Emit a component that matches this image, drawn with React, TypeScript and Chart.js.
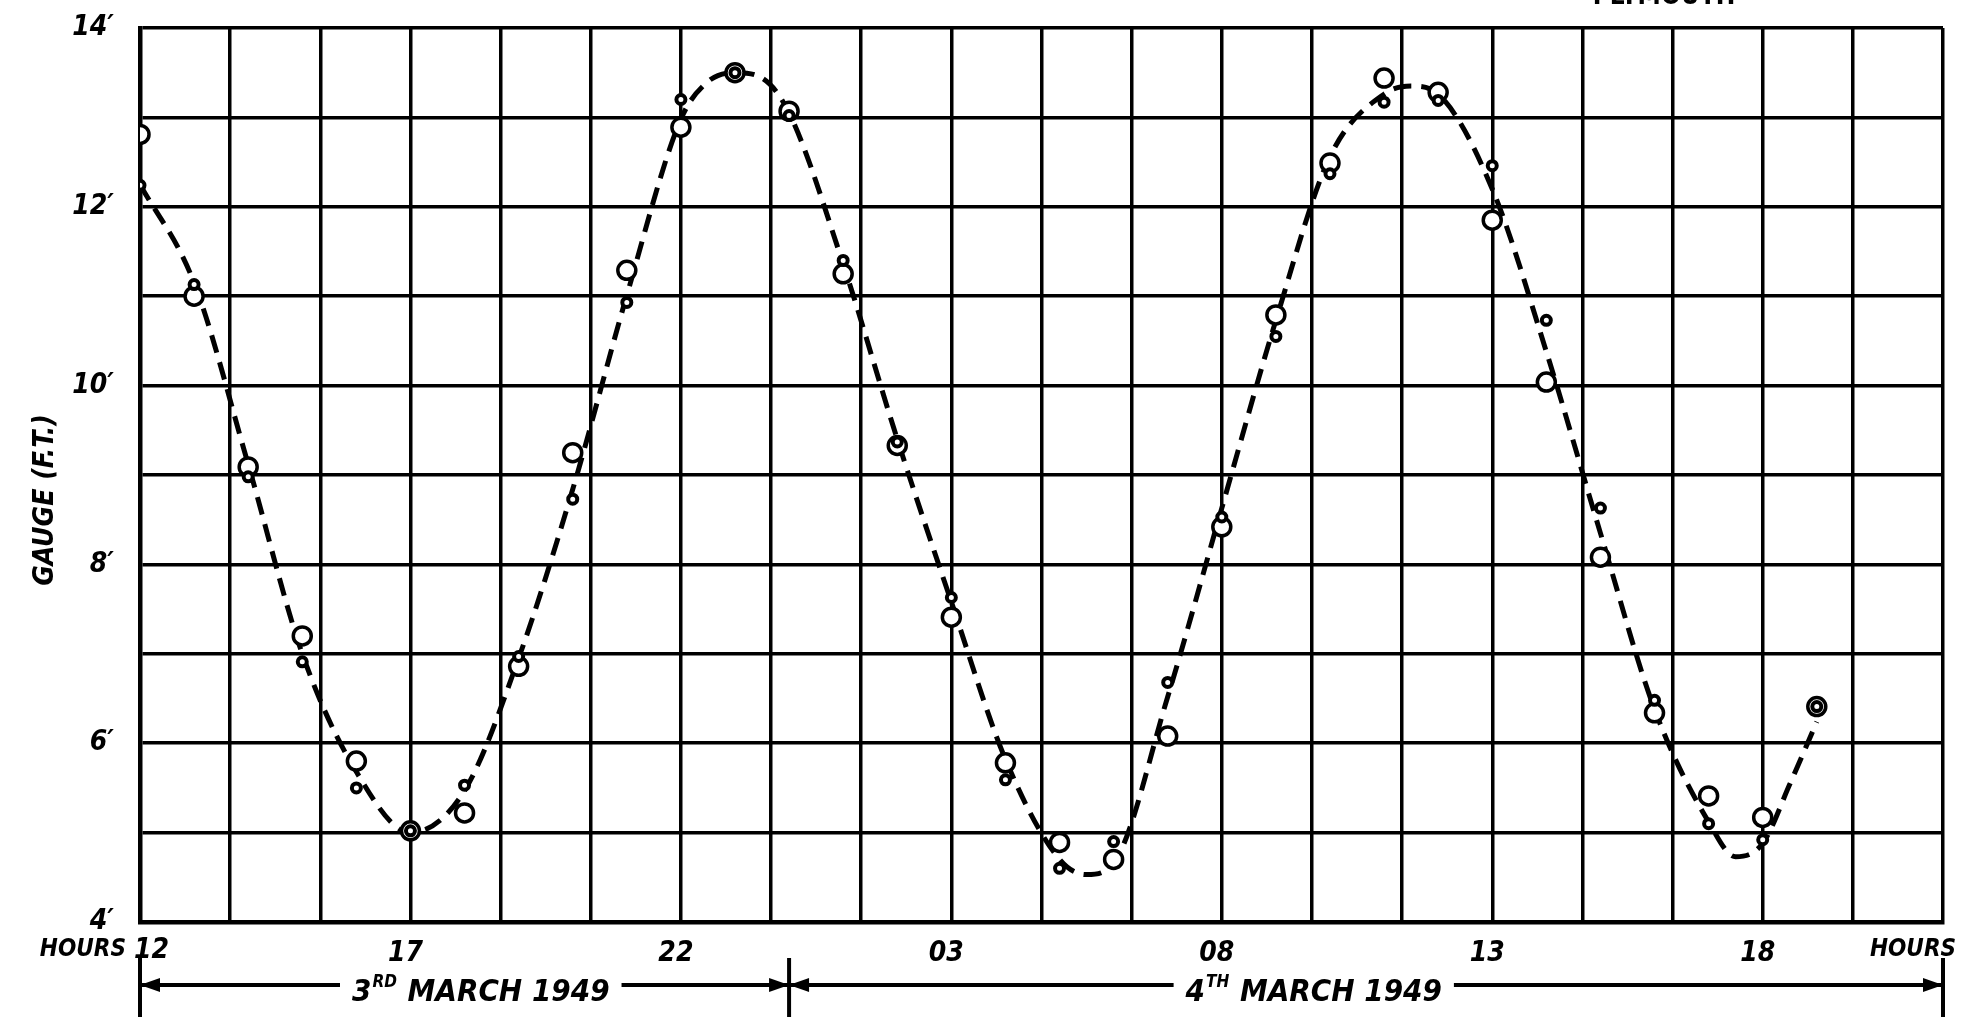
import React, { useEffect, useRef } from "react";
import { Chart, registerables } from "chart.js";

Chart.register(...registerables);

// Hours counted from 12:00 on 3rd March 1949
const readingHours = [0, 1, 2, 3, 4, 5, 6, 7, 8, 9, 10, 11, 12, 13, 14, 15, 16, 17, 18, 19, 20, 21, 22, 23, 24, 25, 26, 27, 28, 29, 30, 31];
// large open circles
const gaugeObserved = [12.81, 11.0, 9.09, 7.2, 5.8, 5.02, 5.22, 6.86, 9.25, 11.29, 12.89, 13.5, 13.07, 11.25, 9.33, 7.41, 5.78, 4.89, 4.7, 6.08, 8.42, 10.79, 12.49, 13.44, 13.28, 11.85, 10.04, 8.08, 6.34, 5.41, 5.17, 6.41];
// small dotted circles
const gaugePredicted = [12.24, 11.13, 8.98, 6.91, 5.5, 5.02, 5.53, 6.97, 8.73, 10.93, 13.2, 13.5, 13.02, 11.4, 9.37, 7.63, 5.59, 4.6, 4.9, 6.68, 8.53, 10.55, 12.37, 13.17, 13.19, 12.46, 10.73, 8.63, 6.48, 5.1, 4.92, 6.41];
// dashed smoothed tide curve
const curveHours = [0, 1, 2, 3, 4, 5, 6, 7, 8, 9, 10, 10.5, 11, 11.5, 12, 13, 14, 15, 16, 17, 17.5, 18, 19, 20, 21, 22, 23, 23.5, 24, 25, 26, 27, 28, 29, 29.5, 30, 30.5, 31];
const curveValues = [12.25, 11.15, 9.12, 7.0, 5.68, 5.0, 5.47, 6.95, 8.84, 11.01, 12.98, 13.4, 13.5, 13.44, 13.05, 11.36, 9.4, 7.58, 5.82, 4.7, 4.53, 4.66, 6.52, 8.63, 10.73, 12.56, 13.26, 13.35, 13.26, 12.2, 10.38, 8.35, 6.38, 5.12, 4.73, 4.88, 5.54, 6.24];

const hourTickLabels = ["12", "17", "22", "03", "08", "13", "18"];
const gaugeTickValues = [4, 6, 8, 10, 12, 14];
const dayLabels = ["3RD MARCH 1949", "4TH MARCH 1949"];
const dayCentres = [6.3, 21.7];
const midnightHour = 12;
const xMaxHour = 100 / 3;
const gridStepHour = 5 / 3;

const FONT_FAMILY = '"DejaVu Sans Condensed", "Liberation Sans Narrow", "DejaVu Sans", sans-serif';

const drawPlugin = {
  id: "annot",
  afterDraw(chart: any) {
    const ctx = chart.ctx;
    const xs = chart.scales.x;
    const area = chart.chartArea;
    ctx.save();
    ctx.fillStyle = "#000";
    ctx.strokeStyle = "#000";
    // HOURS labels and first hour label
    ctx.textBaseline = "middle";
    ctx.font = `italic bold 28px ${FONT_FAMILY}`;
    ctx.textAlign = "left";
    ctx.fillText(hourTickLabels[0], area.left - 6, 951);
    ctx.font = `italic bold 24px ${FONT_FAMILY}`;
    ctx.textAlign = "right";
    ctx.fillText("HOURS", area.left - 14, 950);
    ctx.textAlign = "center";
    ctx.fillText("HOURS", area.right - 30, 950);

    // PLYMOUTH (cut at top)
    ctx.font = `bold 26px ${FONT_FAMILY}`;
    ctx.textBaseline = "alphabetic";
    ctx.fillText("PLYMOUTH", 1664, 4);

    // Y title
    ctx.save();
    ctx.translate(46, 500);
    ctx.rotate(-Math.PI / 2);
    ctx.font = `italic bold 28px ${FONT_FAMILY}`;
    ctx.textAlign = "center";
    ctx.textBaseline = "middle";
    ctx.fillText("GAUGE (F.T.)", 0, 0);
    ctx.restore();

    // Date arrows
    const yA = 985;
    const xl = xs.getPixelForValue(0);
    const xm = xs.getPixelForValue(midnightHour);
    const xr = xs.getPixelForValue(xMaxHour);
    ctx.lineWidth = 4;
    [xl, xm, xr].forEach((x) => {
      ctx.beginPath();
      ctx.moveTo(x, 958);
      ctx.lineTo(x, 1017);
      ctx.stroke();
    });
    const arrowHead = (x: number, dir: number) => {
      ctx.beginPath();
      ctx.moveTo(x, yA);
      ctx.lineTo(x - dir * 20, yA - 7);
      ctx.lineTo(x - dir * 20, yA + 7);
      ctx.closePath();
      ctx.fill();
    };
    const segs = [
      [xl, xm],
      [xm, xr],
    ];
    ctx.textBaseline = "middle";
    dayLabels.forEach((lab, i) => {
      const cx = xs.getPixelForValue(dayCentres[i]);
      const num = lab.slice(0, 1);
      const sup = lab.slice(1, 3);
      const rest = " " + lab.slice(4);
      ctx.font = `italic bold 31px ${FONT_FAMILY}`;
      const wNum = ctx.measureText(num).width;
      const wRest = ctx.measureText(rest).width;
      ctx.font = `italic bold 17px ${FONT_FAMILY}`;
      const wSup = ctx.measureText(sup).width + 2;
      const total = wNum + wSup + wRest;
      const x0 = cx - total / 2;
      ctx.textAlign = "left";
      ctx.font = `italic bold 31px ${FONT_FAMILY}`;
      ctx.fillText(num, x0, yA + 8);
      ctx.font = `italic bold 17px ${FONT_FAMILY}`;
      ctx.fillText(sup, x0 + wNum + 1, yA - 2);
      ctx.font = `italic bold 31px ${FONT_FAMILY}`;
      ctx.fillText(rest, x0 + wNum + wSup, yA + 8);
      const [a, b] = segs[i];
      ctx.lineWidth = 4;
      ctx.beginPath();
      ctx.moveTo(a, yA);
      ctx.lineTo(x0 - 12, yA);
      ctx.moveTo(x0 + total + 12, yA);
      ctx.lineTo(b, yA);
      ctx.stroke();
      arrowHead(a, -1);
      arrowHead(b, 1);
    });
    ctx.restore();
  },
};

export default function App() {
  const ref = useRef<HTMLCanvasElement>(null);
  useEffect(() => {
    if (!ref.current) return;
    const chart = new Chart(ref.current, {
      type: "scatter",
      data: {
        datasets: [
          {
            label: "Predicted",
            data: readingHours.map((h, i) => ({ x: h, y: gaugePredicted[i] })),
            showLine: false,
            pointRadius: 4.5,
            pointBorderWidth: 4,
            pointBackgroundColor: "#fff",
            pointBorderColor: "#000",
          },
          {
            label: "Observed",
            data: readingHours.map((h, i) => ({ x: h, y: gaugeObserved[i] })),
            showLine: false,
            pointRadius: 9,
            pointBorderWidth: 3.5,
            pointBackgroundColor: "#fff",
            pointBorderColor: "#000",
          },
          {
            label: "Curve",
            data: curveHours.map((h, i) => ({ x: h, y: curveValues[i] })),
            showLine: true,
            pointRadius: 0,
            borderColor: "#000",
            borderWidth: 5,
            borderDash: [18, 10],
            cubicInterpolationMode: "monotone",
            fill: false,
          } as any,
        ],
      },
      options: {
        animation: false,
        responsive: true,
        maintainAspectRatio: false,
        devicePixelRatio: 1,
        layout: { padding: { top: 28, right: 25, left: 0, bottom: 0 } },
        plugins: { legend: { display: false }, tooltip: { enabled: false } },
        scales: {
          x: {
            type: "linear",
            min: 0,
            max: xMaxHour,
            afterBuildTicks: (scale: any) => {
              const t = [];
              for (let i = 0; i <= 20; i++) t.push({ value: i * gridStepHour });
              scale.ticks = t;
            },
            afterFit: (scale: any) => {
              scale.height = 1017 - 922;
              scale.paddingLeft = 0;
              scale.paddingRight = 0;
            },
            grid: { color: "#000", lineWidth: 3.5, drawTicks: false },
            border: { display: true, color: "#000", width: 4.5 },
            ticks: {
              padding: 15,
              labelOffset: -5,
              autoSkip: false,
              maxRotation: 0,
              color: "#000",
              font: { family: FONT_FAMILY, size: 28, style: "italic", weight: "bold" },
              callback: (_v: any, i: number) => (i > 0 && i % 3 === 0 && i / 3 < hourTickLabels.length ? hourTickLabels[i / 3] : ""),
            },
          },
          y: {
            type: "linear",
            min: 4,
            max: 14,
            afterFit: (scale: any) => {
              scale.width = 140;
              scale.paddingTop = 0;
              scale.paddingBottom = 0;
            },
            grid: { color: "#000", lineWidth: 3.5, drawTicks: false },
            border: { display: true, color: "#000", width: 4.5 },
            ticks: {
              stepSize: 1,
              padding: 26,
              color: "#000",
              font: { family: FONT_FAMILY, size: 28, style: "italic", weight: "bold" },
              callback: (v: any) => (gaugeTickValues.includes(v) ? v + "\u2032" : ""),
            },
          },
        },
      },
      plugins: [drawPlugin],
    } as any);
    return () => chart.destroy();
  }, []);
  return (
    <div style={{ position: "fixed", left: 0, top: 0, width: 1968, height: 1017, background: "#fff" }}>
      <canvas ref={ref} />
    </div>
  );
}
